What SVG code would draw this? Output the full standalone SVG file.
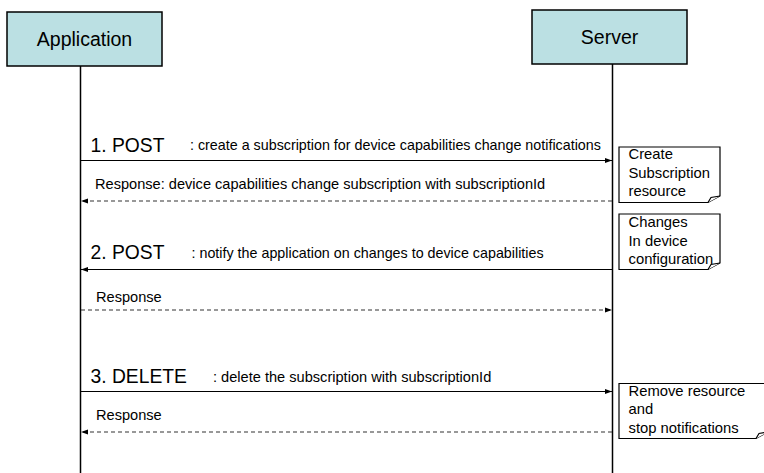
<svg xmlns="http://www.w3.org/2000/svg" width="764" height="473" viewBox="0 0 764 473">
<defs>
<marker id="ah" markerUnits="userSpaceOnUse" markerWidth="8" markerHeight="8" refX="7" refY="3" orient="auto">
<path d="M0,0.5 L7,3 L0,5.5 Z" fill="#000"/>
</marker>
<style>
.box{fill:#BBE0E3;stroke:#000;stroke-width:1.5}
.hd{font-family:"Liberation Sans",Arial,sans-serif;font-size:19.5px;fill:#000}
.big{font-family:"Liberation Sans",Arial,sans-serif;font-size:19.3px;fill:#000}
.sm{font-family:"Liberation Sans",Arial,sans-serif;font-size:14.6px;fill:#000}
.sm2{font-size:14.3px}
.nt{font-family:"Liberation Sans",Arial,sans-serif;font-size:14.8px;fill:#000}
.life{stroke:#000;stroke-width:1.5;fill:none}
.msg{stroke:#000;stroke-width:1.2;fill:none;marker-end:url(#ah)}
.rsp{stroke:#333;stroke-width:1.2;fill:none;stroke-dasharray:4 3;marker-end:url(#ah)}
.note{fill:#fff;stroke:#000;stroke-width:1.2}
</style>
</defs>
<rect width="764" height="473" fill="#fff"/>
<g id="application">
<rect class="box" x="7" y="12" width="155" height="54"/>
<text class="hd" x="84.5" y="46" text-anchor="middle">Application</text>
<line class="life" x1="80.5" y1="66" x2="80.5" y2="473"/>
</g>
<g id="server">
<rect class="box" x="532" y="10" width="155" height="54"/>
<text class="hd" x="609.5" y="44" text-anchor="middle">Server</text>
<line class="life" x1="612.5" y1="64" x2="612.5" y2="473"/>
</g>
<g id="connectors">
<line class="msg" x1="81" y1="160.5" x2="612" y2="160.5"/>
<line class="rsp" x1="612" y1="201" x2="81" y2="201"/>
<line class="msg" x1="612" y1="269.5" x2="81" y2="269.5"/>
<line class="rsp" x1="81" y1="310" x2="612" y2="310"/>
<line class="msg" x1="81" y1="391.5" x2="612" y2="391.5"/>
<line class="rsp" x1="612" y1="432" x2="81" y2="432"/>
</g>
<g id="labels">
<text class="big" x="90.5" y="152">1. POST</text>
<text class="sm sm2" x="190" y="150">: create a subscription for device capabilities change notifications</text>
<text class="sm" x="95" y="189">Response: device capabilities change subscription with subscriptionId</text>
<text class="big" x="90.5" y="259">2. POST</text>
<text class="sm sm2" x="191.5" y="258">: notify the application on changes to device capabilities</text>
<text class="sm" x="96" y="302">Response</text>
<text class="big" x="90.5" y="383">3. DELETE</text>
<text class="sm" x="213" y="382">: delete the subscription with subscriptionId</text>
<text class="sm" x="96" y="420">Response</text>
</g>
<g id="note1">
<path class="note" d="M619,147 H720 V196 L708,202.5 H619 Z"/>
<path class="note" d="M708,202.5 L711,197.5 L720,196" fill="none"/>
<text class="nt" x="628.5" y="158.5">Create</text>
<text class="nt" x="628.5" y="177.5">Subscription</text>
<text class="nt" x="628.5" y="196">resource</text>
</g>
<g id="note2">
<path class="note" d="M619,214 H720 V263 L708,269.5 H619 Z"/>
<path class="note" d="M708,269.5 L711,264.5 L720,263" fill="none"/>
<text class="nt" x="628.5" y="226.5">Changes</text>
<text class="nt" x="628.5" y="245.5">In device</text>
<text class="nt" x="628.5" y="263.5">configuration</text>
</g>
<g id="note3">
<path class="note" d="M619,383.5 H768 V432 L756,438.5 H619 Z"/>
<path class="note" d="M756,438.5 L759,433.5 L768,432" fill="none"/>
<text class="nt" x="628.5" y="396">Remove resource</text>
<text class="nt" x="628.5" y="414">and</text>
<text class="nt" x="628.5" y="432.5">stop notifications</text>
</g>
</svg>
